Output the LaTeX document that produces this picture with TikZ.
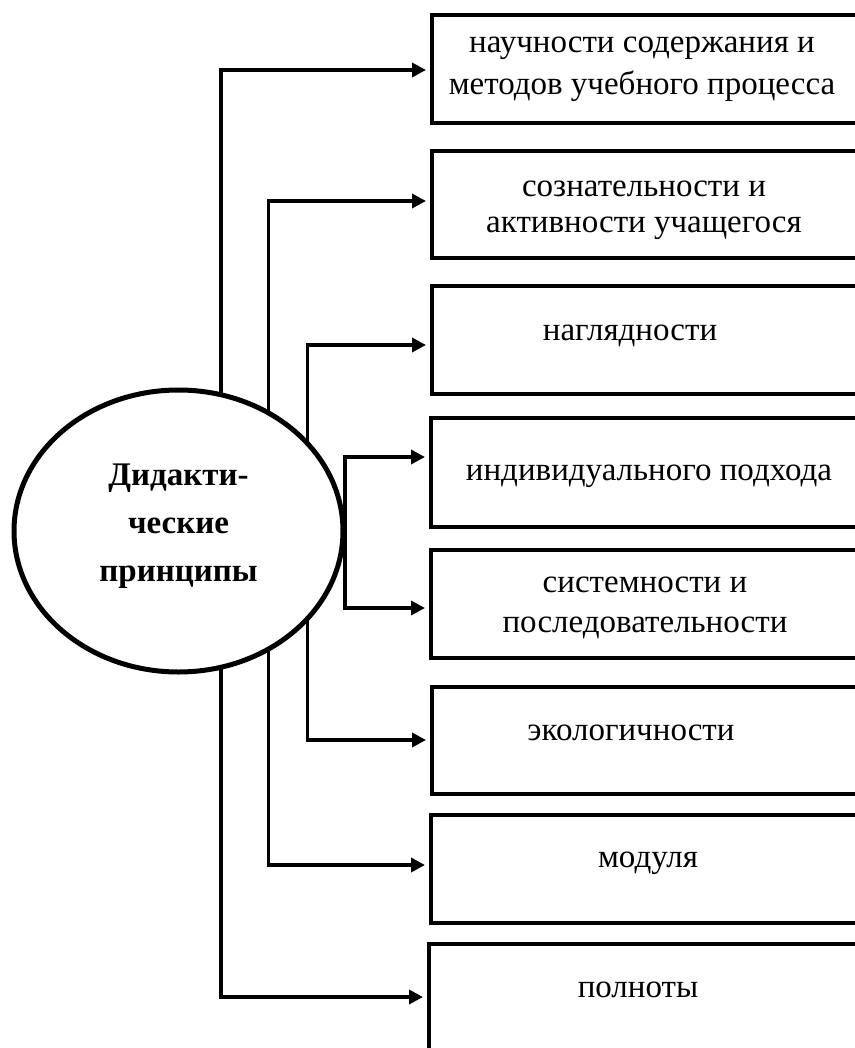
\documentclass[tikz,border=0pt]{standalone}
\usepackage{fontspec}
\setmainfont{Liberation Serif}
\newfontfamily\tnr{Liberation Serif}
\usetikzlibrary{shapes.geometric,arrows.meta,backgrounds}
\tikzset{
  box/.style={draw, line width=4pt, anchor=north west, outer sep=0pt, inner sep=0pt, minimum width=460pt},
  conn/.style={line width=3.5pt, -{Triangle[length=14pt,width=14pt]}, shorten >=6pt},
  lbl/.style={anchor=base, inner sep=0pt, font=\tnr\fontsize{33}{40}\selectfont},
  ttl/.style={anchor=base, inner sep=0pt, font=\tnr\fontsize{33}{48}\selectfont\bfseries}
}
\begin{document}
\begin{tikzpicture}[x=1pt,y=-1pt]
\useasboundingbox (0,0) rectangle (854,1048);
% boxes
\node[box, minimum height=108pt] (b1) at (432,15) {};
\node[box, minimum height=107pt] (b2) at (432,151) {};
\node[box, minimum height=108pt] (b3) at (432,286) {};
\node[box, minimum height=109pt] (b4) at (431,418) {};
\node[box, minimum height=108pt] (b5) at (431,550) {};
\node[box, minimum height=107pt] (b6) at (432,687) {};
\node[box, minimum height=108pt] (b7) at (431,815) {};
\node[box, minimum height=130pt] (b8) at (429,944) {};
% texts
\node[lbl] (t1) at (642,53) {\def\arraystretch{1.05}\begin{tabular}[t]{@{}c@{}}научности содержания и\\методов учебного процесса\end{tabular}};
\node[lbl] (t2) at (644,197) {\def\arraystretch{0.88}\begin{tabular}[t]{@{}c@{}}сознательности и\\активности учащегося\end{tabular}};
\node[lbl] (t3) at (630,340) {наглядности};
\node[lbl] (t4) at (649,480) {индивидуального подхода};
\node[lbl] (t5) at (645,592) {\def\arraystretch{1.0}\begin{tabular}[t]{@{}c@{}}системности и\\последовательности\end{tabular}};
\node[lbl] (t6) at (631,740) {экологичности};
\node[lbl] (t7) at (648,867) {модуля};
\node[lbl] (t8) at (638,997) {полноты};
% ellipse
\node[draw, ellipse, line width=5pt, fill=white, inner sep=0pt, outer sep=0pt,
      minimum width=329pt, minimum height=282pt] (e) at (178.5,531) {};
\node[ttl] (et) at (178.5,485) {\def\arraystretch{1}\begin{tabular}[t]{@{}c@{}}Дидакти-\\ческие\\принципы\end{tabular}};
% connectors
\begin{pgfonlayer}{background}
\draw[conn] ([xshift=42.5pt]e.center) |- ([yshift=-1pt]b1.west);
\draw[conn] ([xshift=90pt]e.center) |- ([yshift=3.5pt]b2.west);
\draw[conn] ([xshift=129pt]e.center) |- ([yshift=-5pt]b3.west);
\draw[conn] ([xshift=166.5pt]e.center) |- ([yshift=15.5pt]b4.west);
\draw[conn] ([xshift=166.5pt]e.center) |- ([yshift=-4pt]b5.west);
\draw[conn] ([xshift=129pt]e.center) |- ([yshift=0.5pt]b6.west);
\draw[conn] ([xshift=90pt]e.center) |- ([yshift=4pt]b7.west);
\draw[conn] ([xshift=42.5pt]e.center) |- ([yshift=12pt]b8.west);
\end{pgfonlayer}
\end{tikzpicture}
\end{document}
